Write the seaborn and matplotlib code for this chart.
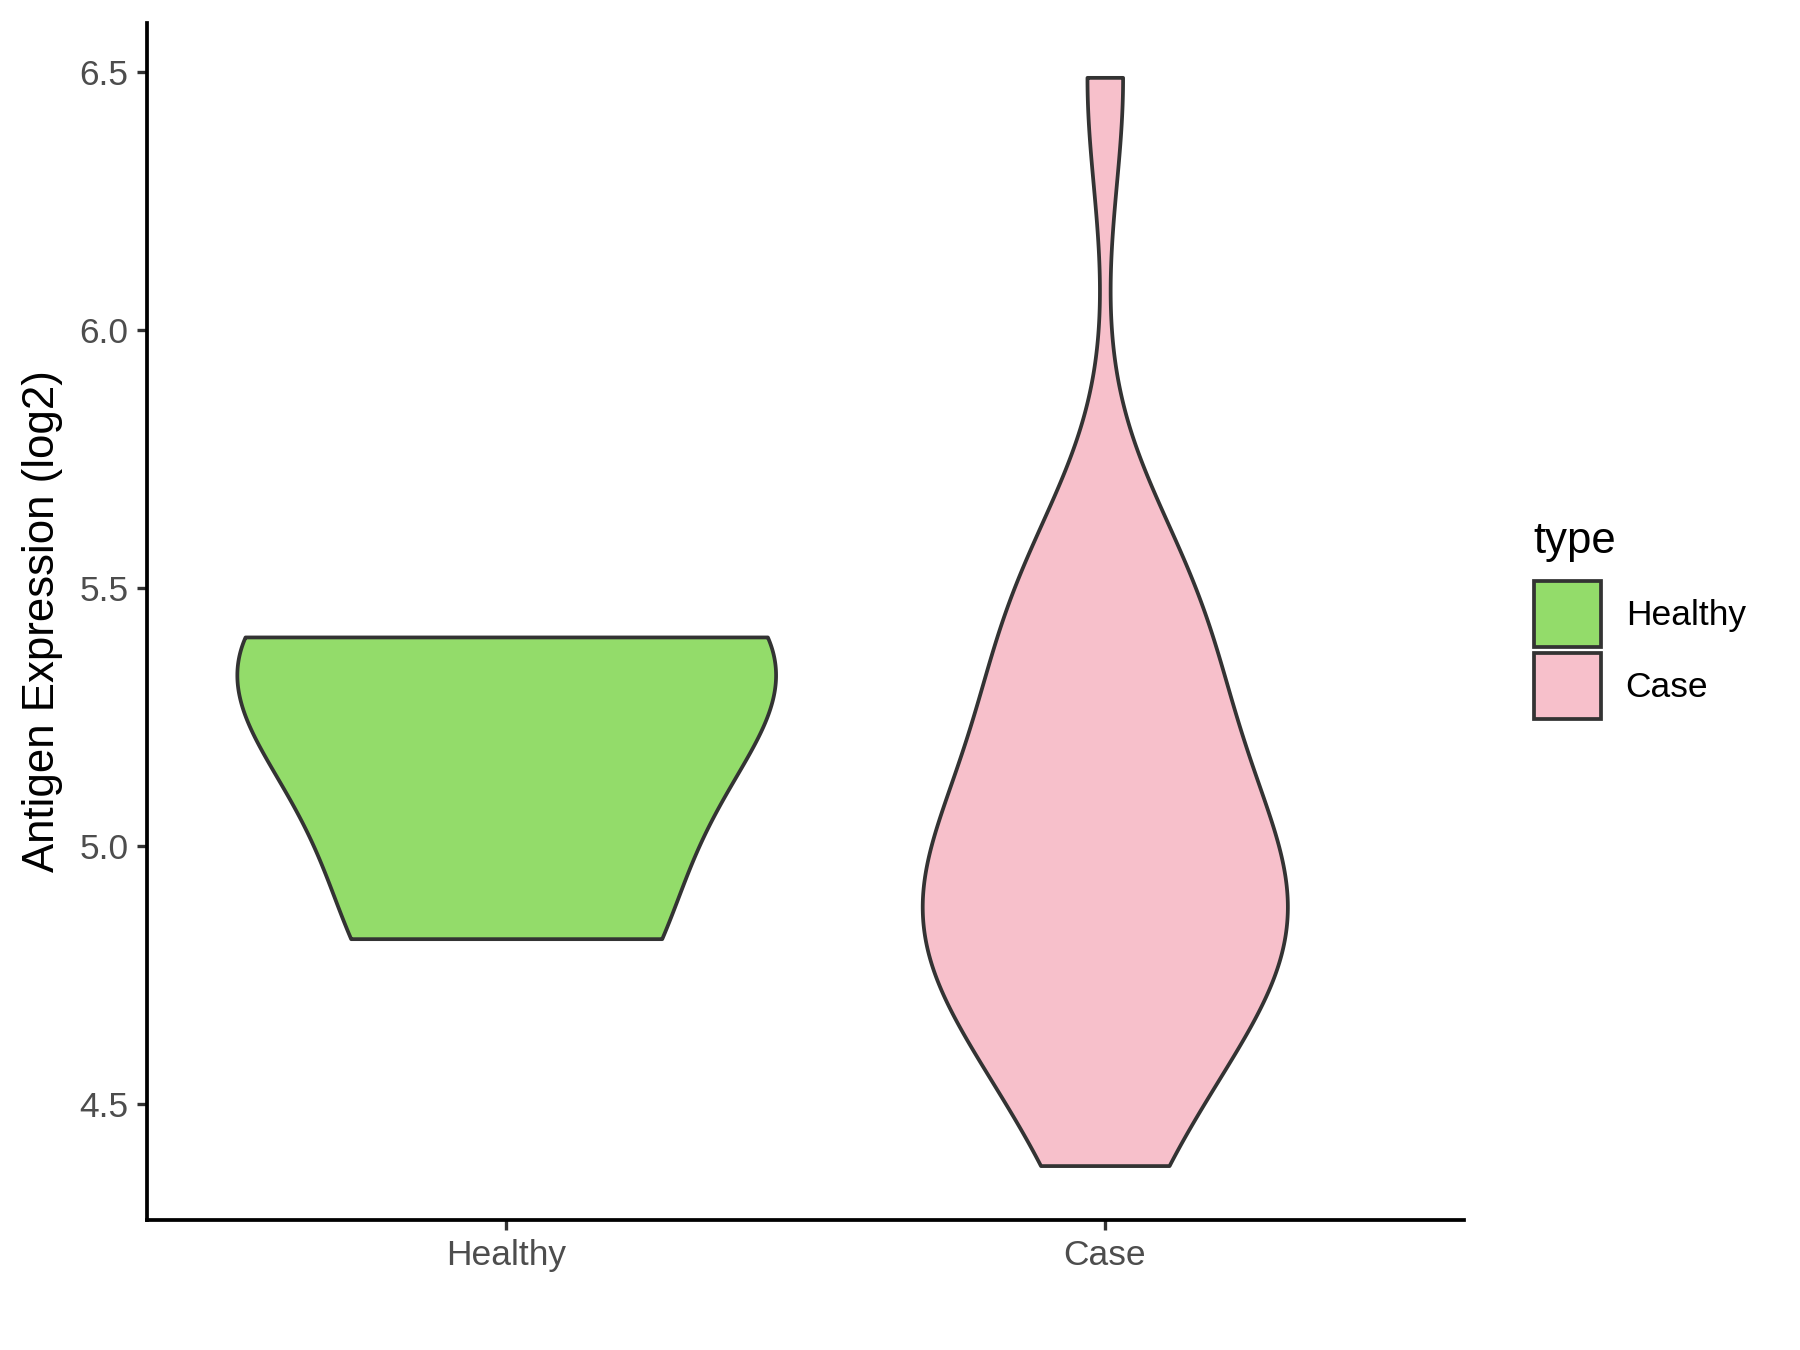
import numpy as np
import pandas as pd
import seaborn as sns
from matplotlib import pyplot as plt
from matplotlib.patches import Patch

# values
types = ["Healthy", "Case"]
healthy_expr = [4.82, 5.33, 5.405]
case_expr = [4.38, 4.52, 4.61, 4.68, 4.74, 4.79, 4.84, 4.86, 4.88, 4.92, 4.97, 5.03,
             5.10, 5.18, 5.27, 5.36, 5.44, 5.51, 5.57, 6.49]
colors = ["#93DC6A", "#F7C0CB"]

sns.set_style("ticks")
plt.rcParams["font.family"] = ["Liberation Sans", "DejaVu Sans"]
plt.rcParams["text.color"] = "black"

df = pd.DataFrame({
    "type": ["Healthy"] * len(healthy_expr) + ["Case"] * len(case_expr),
    "expr": healthy_expr + case_expr,
})

fig = plt.figure(figsize=(12, 9), dpi=150)
ax = fig.add_axes([0.0817, 0.0963, 0.7316, 0.8867])

# each violin drawn on its own so bandwidth and width can follow the reference
settings = {"Healthy": (1.0, 0.9), "Case": (0.85, 0.61)}
for t in types:
    bw, wd = settings[t]
    sns.violinplot(data=df[df["type"] == t], x="type", y="expr", order=types,
                   hue="type", hue_order=types, palette=colors, dodge=False,
                   density_norm="width", cut=0, inner=None, width=wd, bw_adjust=bw,
                   gridsize=512, linewidth=1.8, linecolor="#333333", saturation=1,
                   legend=False, ax=ax)

lo, hi = df["expr"].min(), df["expr"].max()
pad = 0.05 * (hi - lo)
ax.set_ylim(lo - pad, hi + pad)
ax.set_xlim(-0.6, 1.6)
ax.set_yticks([4.5, 5.0, 5.5, 6.0, 6.5])
ax.set_yticklabels(["4.5", "5.0", "5.5", "6.0", "6.5"])
ax.set_xlabel("")
ax.set_ylabel("Antigen Expression (log2)", fontsize=21, color="black", labelpad=8)

for side in ["top", "right"]:
    ax.spines[side].set_visible(False)
for side in ["left", "bottom"]:
    ax.spines[side].set_color("black")
    ax.spines[side].set_linewidth(1.8)
ax.tick_params(axis="both", which="major", direction="out", length=5, width=1.6,
               color="#333333", labelcolor="#4D4D4D", labelsize=17, pad=4,
               left=True, bottom=True)
ax.grid(False)

handles = [Patch(facecolor=c, edgecolor="#333333", linewidth=1.8, label=t)
           for c, t in zip(colors, types)]
leg = fig.legend(handles=handles, title="type", loc="upper left",
                 bbox_to_anchor=(0.852, 0.614), frameon=False, fontsize=17,
                 title_fontsize=21, handlelength=1.9, handleheight=2.5,
                 labelspacing=0.17, handletextpad=0.7, borderpad=0, borderaxespad=0,
                 alignment="left")
leg._legend_box.sep = 9
for txt in leg.get_texts():
    txt.set_color("black")
leg.get_title().set_color("black")

fig.savefig("out.png", dpi=150)
